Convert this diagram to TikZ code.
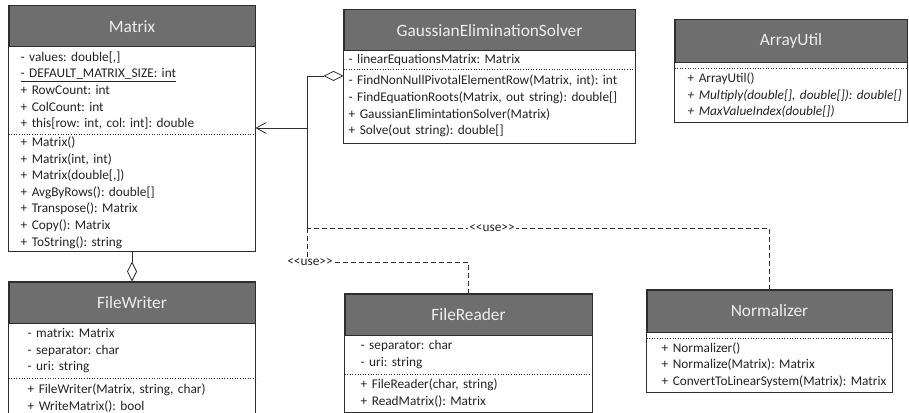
\documentclass[tikz,border=0pt]{standalone}
\usepackage{fontspec}
\setmainfont{Carlito}
\usepackage{xcolor}
\usetikzlibrary{arrows.meta,positioning}
\frenchspacing
\definecolor{headgray}{RGB}{110,110,110}
\definecolor{headtext}{RGB}{238,238,238}
\definecolor{linegray}{RGB}{45,45,45}
\definecolor{textgray}{RGB}{35,35,35}
\newcommand{\usetxt}{<\kern0pt<use>\kern0pt>}
\tikzstyle{head} = [rectangle, minimum height=41pt, inner sep=0pt, draw=linegray, line width=1pt, fill=headgray, text=headtext, font=\fontsize{17.3}{20}\selectfont]
\tikzstyle{comp} = [rectangle, anchor=north west, inner sep=0pt, align=left, text=textgray, font=\fontsize{13.3}{16.6}\selectfont]
\tikzstyle{border} = [draw=linegray, line width=1pt]
\tikzstyle{sep} = [linegray, dotted, line width=0.6pt]
\tikzstyle{aggr} = [linegray, line width=0.8pt, {Diamond[open,length=20pt,width=10pt]}-]
\tikzstyle{nav} = [linegray, line width=0.8pt, -{Straight Barb[length=10pt,width=11pt]}]
\tikzstyle{dep} = [linegray, line width=0.8pt, dash pattern=on 5pt off 3pt]
\tikzstyle{uselbl} = [inner sep=1pt, fill=white, text=textgray, font=\fontsize{13.3}{15}\selectfont]

\begin{document}
\begin{tikzpicture}[x=1pt, y=-1pt]
\useasboundingbox (0,0) rectangle (909,412);
\clip (0,0) rectangle (909,412);

\node (matH) [head, minimum width=246pt] at (132,26.5) {Matrix};
\node (matA) [comp, text width=232pt, minimum height=86pt] at ([xshift=12pt]matH.south west) {- values: double[,]\\
\underline{- DEFAULT\_MATRIX\_SIZE: int}\\
+ RowCount: int\\
+ ColCount: int\\
+ this[row: int, col: int]: double};
\node (matO) [comp, text width=232pt, minimum height=117pt] at (matA.south west) {+ Matrix()\\
+ Matrix(int, int)\\
+ Matrix(double[,])\\
+ AvgByRows(): double[]\\
+ Transpose(): Matrix\\
+ Copy(): Matrix\\
+ ToString(): string};
\draw [border] (matH.north west) rectangle (matH.east |- matO.south);
\draw [sep] (matH.west |- matA.south) -- (matH.east |- matA.south);

\node (gesH) [head, minimum width=291pt] at (489.5,30.5) {GaussianEliminationSolver};
\node (gesA) [comp, text width=284pt, minimum height=17pt] at ([xshift=5pt]gesH.south west) {- linearEquationsMatrix: Matrix};
\node (gesO) [comp, text width=284pt, minimum height=74pt] at (gesA.south west) {- FindNonNullPivotalElementRow(Matrix, int): int\\
- FindEquationRoots(Matrix, out string): double[]\\
+ GaussianElimintationSolver(Matrix)\\
+ Solve(out string): double[]};
\draw [border] (gesH.north west) rectangle (gesH.east |- gesO.south);
\draw [sep] (gesH.west |- gesA.south) -- (gesH.east |- gesA.south);

\node (arrH) [head, minimum width=232pt, minimum height=42pt] at (791,41) {ArrayUtil};
\node (arrA) [comp, text width=217pt, minimum height=5pt] at ([xshift=13pt]arrH.south west) {};
\node (arrO) [comp, text width=217pt, minimum height=54pt] at (arrA.south west) {+ ArrayUtil()\\
\textit{+ Multiply(double[], double[]): double[]}\\
\textit{+ MaxValueIndex(double[])}};
\draw [border] (arrH.north west) rectangle (arrH.east |- arrO.south);
\draw [sep] (arrH.west |- arrA.south) -- (arrH.east |- arrA.south);

\node (fwH) [head, minimum width=246pt] at (132,302.5) {FileWriter};
\node (fwA) [comp, text width=225pt, minimum height=54pt] at ([xshift=19pt]fwH.south west) {- matrix: Matrix\\
- separator: char\\
- uri: string};
\node (fwO) [comp, text width=225pt, minimum height=40pt] at (fwA.south west) {+ FileWriter(Matrix, string, char)\\
+ WriteMatrix(): bool};
\draw [border] (fwH.north west) rectangle (fwH.east |- fwO.south);
\draw [sep] (fwH.west |- fwA.south) -- (fwH.east |- fwA.south);

\node (frH) [head, minimum width=247pt] at (468.5,314.5) {FileReader};
\node (frA) [comp, text width=229pt, minimum height=38pt] at ([xshift=16pt]frH.south west) {- separator: char\\
- uri: string};
\node (frO) [comp, text width=229pt, minimum height=38pt] at (frA.south west) {+ FileReader(char, string)\\
+ ReadMatrix(): Matrix};
\draw [border] (frH.north west) rectangle (frH.east |- frO.south);
\draw [sep] (frH.west |- frA.south) -- (frH.east |- frA.south);

\node (noH) [head, minimum width=245pt, minimum height=42pt] at (769.5,311) {Normalizer};
\node (noA) [comp, text width=228pt, minimum height=5pt] at ([xshift=15pt]noH.south west) {};
\node (noO) [comp, text width=228pt, minimum height=54pt] at (noA.south west) {+ Normalizer()\\
+ Normalize(Matrix): Matrix\\
+ ConvertToLinearSystem(Matrix): Matrix};
\draw [border] (noH.north west) rectangle (noH.east |- noO.south);
\draw [sep] (noH.west |- noA.south) -- (noH.east |- noA.south);

\coordinate (jn) at (307,228);
\coordinate (mid) at (307,128);

\draw [aggr] (fwH.north) -- (matH.south |- matO.south);
\draw [aggr] ([yshift=-7pt]gesH.west |- gesO.north) -| (jn);
\draw [nav] (mid) -- (mid -| matH.east);

\node (useR) [uselbl] at (310,262) {\usetxt};
\draw [dep] (frH.north) |- (useR);
\draw [dep] (useR.north -| jn) -- (jn);
\draw [dep] (noH.north) |- node[uselbl, pos=0.8] (useN) {\usetxt} (jn);

\end{tikzpicture}
\end{document}
